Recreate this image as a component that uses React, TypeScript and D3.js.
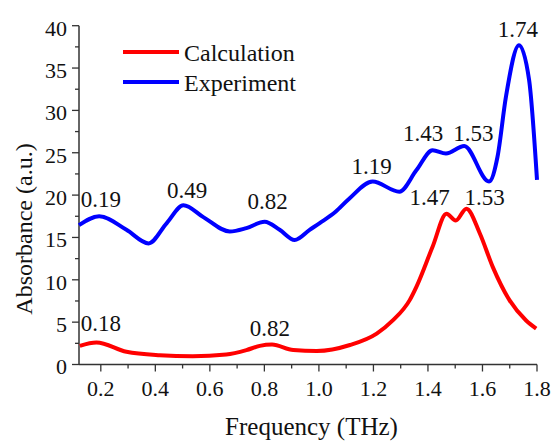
import React from 'react';
import * as d3 from 'd3';

// Frequency (THz) / absorbance (a.u.)
const calcFreq = [0.123, 0.184, 0.294, 0.416, 0.537, 0.66, 0.734, 0.783, 0.828, 0.906, 0.992, 1.114, 1.212, 1.271, 1.333, 1.358, 1.417, 1.468, 1.502, 1.541, 1.59, 1.638, 1.699, 1.76, 1.797];
const calcAbs = [2.2, 2.6, 1.5, 1.1, 0.98, 1.18, 1.7, 2.2, 2.35, 1.7, 1.6, 2.3, 3.65, 5.2, 7.6, 9.2, 13.9, 17.8, 17.0, 18.4, 15.5, 11.5, 7.6, 5.2, 4.25];

const expFreq = [0.12, 0.194, 0.294, 0.375, 0.442, 0.503, 0.576, 0.673, 0.734, 0.801, 0.856, 0.911, 0.966, 1.003, 1.06, 1.112, 1.197, 1.295, 1.358, 1.417, 1.466, 1.533, 1.624, 1.655, 1.686, 1.734, 1.771, 1.8];
const expAbs = [16.45, 17.5, 15.9, 14.3, 16.7, 18.8, 17.4, 15.7, 16.1, 16.85, 15.9, 14.7, 15.9, 16.7, 18.0, 19.6, 21.6, 20.4, 22.95, 25.3, 24.9, 25.8, 21.6, 24.5, 31.6, 37.7, 33.6, 21.8];

// peak annotations: text, x, y (baseline) in data units
const peakText = ['0.19', '0.49', '0.82', '1.19', '1.43', '1.53', '1.74', '1.47', '1.53', '0.18', '0.82'];
const peakX = [0.2, 0.517, 0.812, 1.193, 1.382, 1.567, 1.73, 1.406, 1.608, 0.2, 0.82];
const peakY = [18.55, 19.7, 18.4, 22.55, 26.4, 26.4, 38.7, 18.8, 18.8, 3.97, 3.34];

const xMajor = [0.2, 0.4, 0.6, 0.8, 1.0, 1.2, 1.4, 1.6, 1.8];
const xMinor = [0.3, 0.5, 0.7, 0.9, 1.1, 1.3, 1.5, 1.7];
const yMajor = [0, 5, 10, 15, 20, 25, 30, 35, 40];
const yMinor = [2.5, 7.5, 12.5, 17.5, 22.5, 27.5, 32.5, 37.5];

const W = 553;
const H = 441;
const INK = '#111';
const AXIS = '#333';
const SERIF = 'Times New Roman';

const x = d3.scaleLinear().domain([0.12, 1.8]).range([79, 537]);
const y = d3.scaleLinear().domain([0, 40]).range([364.5, 25.7]);

const line = d3.line<[number, number]>()
  .x(d => x(d[0]))
  .y(d => y(d[1]))
  .curve(d3.curveMonotoneX);

const calcPath = line(calcFreq.map((f, i) => [f, calcAbs[i]] as [number, number])) || '';
const expPath = line(expFreq.map((f, i) => [f, expAbs[i]] as [number, number])) || '';

const legend = [
  { name: 'Calculation', color: '#ff0000', y: 52 },
  { name: 'Experiment', color: '#0000ff', y: 82 },
];

export default function App() {
  const x0 = x(0.12);
  const y0 = y(0);
  const fmt = d3.format('.1f');

  return (
    <svg
      width={W}
      height={H}
      style={{ position: 'absolute', left: 0, top: 0, background: '#fff' }}
    >
      {/* x axis */}
      <line x1={x0} x2={x(1.8)} y1={y0} y2={y0} stroke={AXIS} strokeWidth={1.5} />
      {xMinor.map(t => (
        <line key={'xm' + t} x1={x(t)} x2={x(t)} y1={y0} y2={y0 + 4} stroke={AXIS} strokeWidth={1.3} />
      ))}
      {xMajor.map(t => (
        <g key={'xM' + t}>
          <line x1={x(t)} x2={x(t)} y1={y0} y2={y0 + 7} stroke={AXIS} strokeWidth={1.3} />
          <text x={x(t)} y={y0 + 31.5} textAnchor="middle" fontFamily={SERIF} fontSize={22} fill={INK}>{fmt(t)}</text>
        </g>
      ))}

      {/* y axis */}
      <line x1={x0} x2={x0} y1={y(40)} y2={y0} stroke={AXIS} strokeWidth={1.5} />
      {yMinor.map(t => (
        <line key={'ym' + t} x1={x0 - 4} x2={x0} y1={y(t)} y2={y(t)} stroke={AXIS} strokeWidth={1.3} />
      ))}
      {yMajor.map(t => (
        <g key={'yM' + t}>
          <line x1={x0 - 7} x2={x0} y1={y(t)} y2={y(t)} stroke={AXIS} strokeWidth={1.3} />
          <text x={x0 - 12} y={y(t)} dy="0.45em" textAnchor="end" fontFamily={SERIF} fontSize={22} fill={INK}>{t}</text>
        </g>
      ))}

      {/* curves */}
      <path d={calcPath} fill="none" stroke="#ff0000" strokeWidth={4} strokeLinejoin="round" />
      <path d={expPath} fill="none" stroke="#0000ff" strokeWidth={4} strokeLinejoin="round" />

      {/* peak labels */}
      {peakText.map((t, i) => (
        <text key={'p' + i} x={x(peakX[i])} y={y(peakY[i])} textAnchor="middle" fontFamily={SERIF} fontSize={23} fill={INK}>{t}</text>
      ))}

      {/* legend */}
      {legend.map(l => (
        <g key={l.name}>
          <line x1={123} x2={179} y1={l.y} y2={l.y} stroke={l.color} strokeWidth={4} />
          <text x={184} y={l.y + 9} fontFamily={SERIF} fontSize={24} fill={INK}>{l.name}</text>
        </g>
      ))}

      {/* axis titles */}
      <text x={311.5} y={435} textAnchor="middle" fontFamily={SERIF} fontSize={25} fill={INK}>Frequency (THz)</text>
      <text transform="translate(32,229) rotate(-90)" textAnchor="middle" fontFamily={SERIF} fontSize={24} fill={INK}>Absorbance (a.u.)</text>
    </svg>
  );
}
